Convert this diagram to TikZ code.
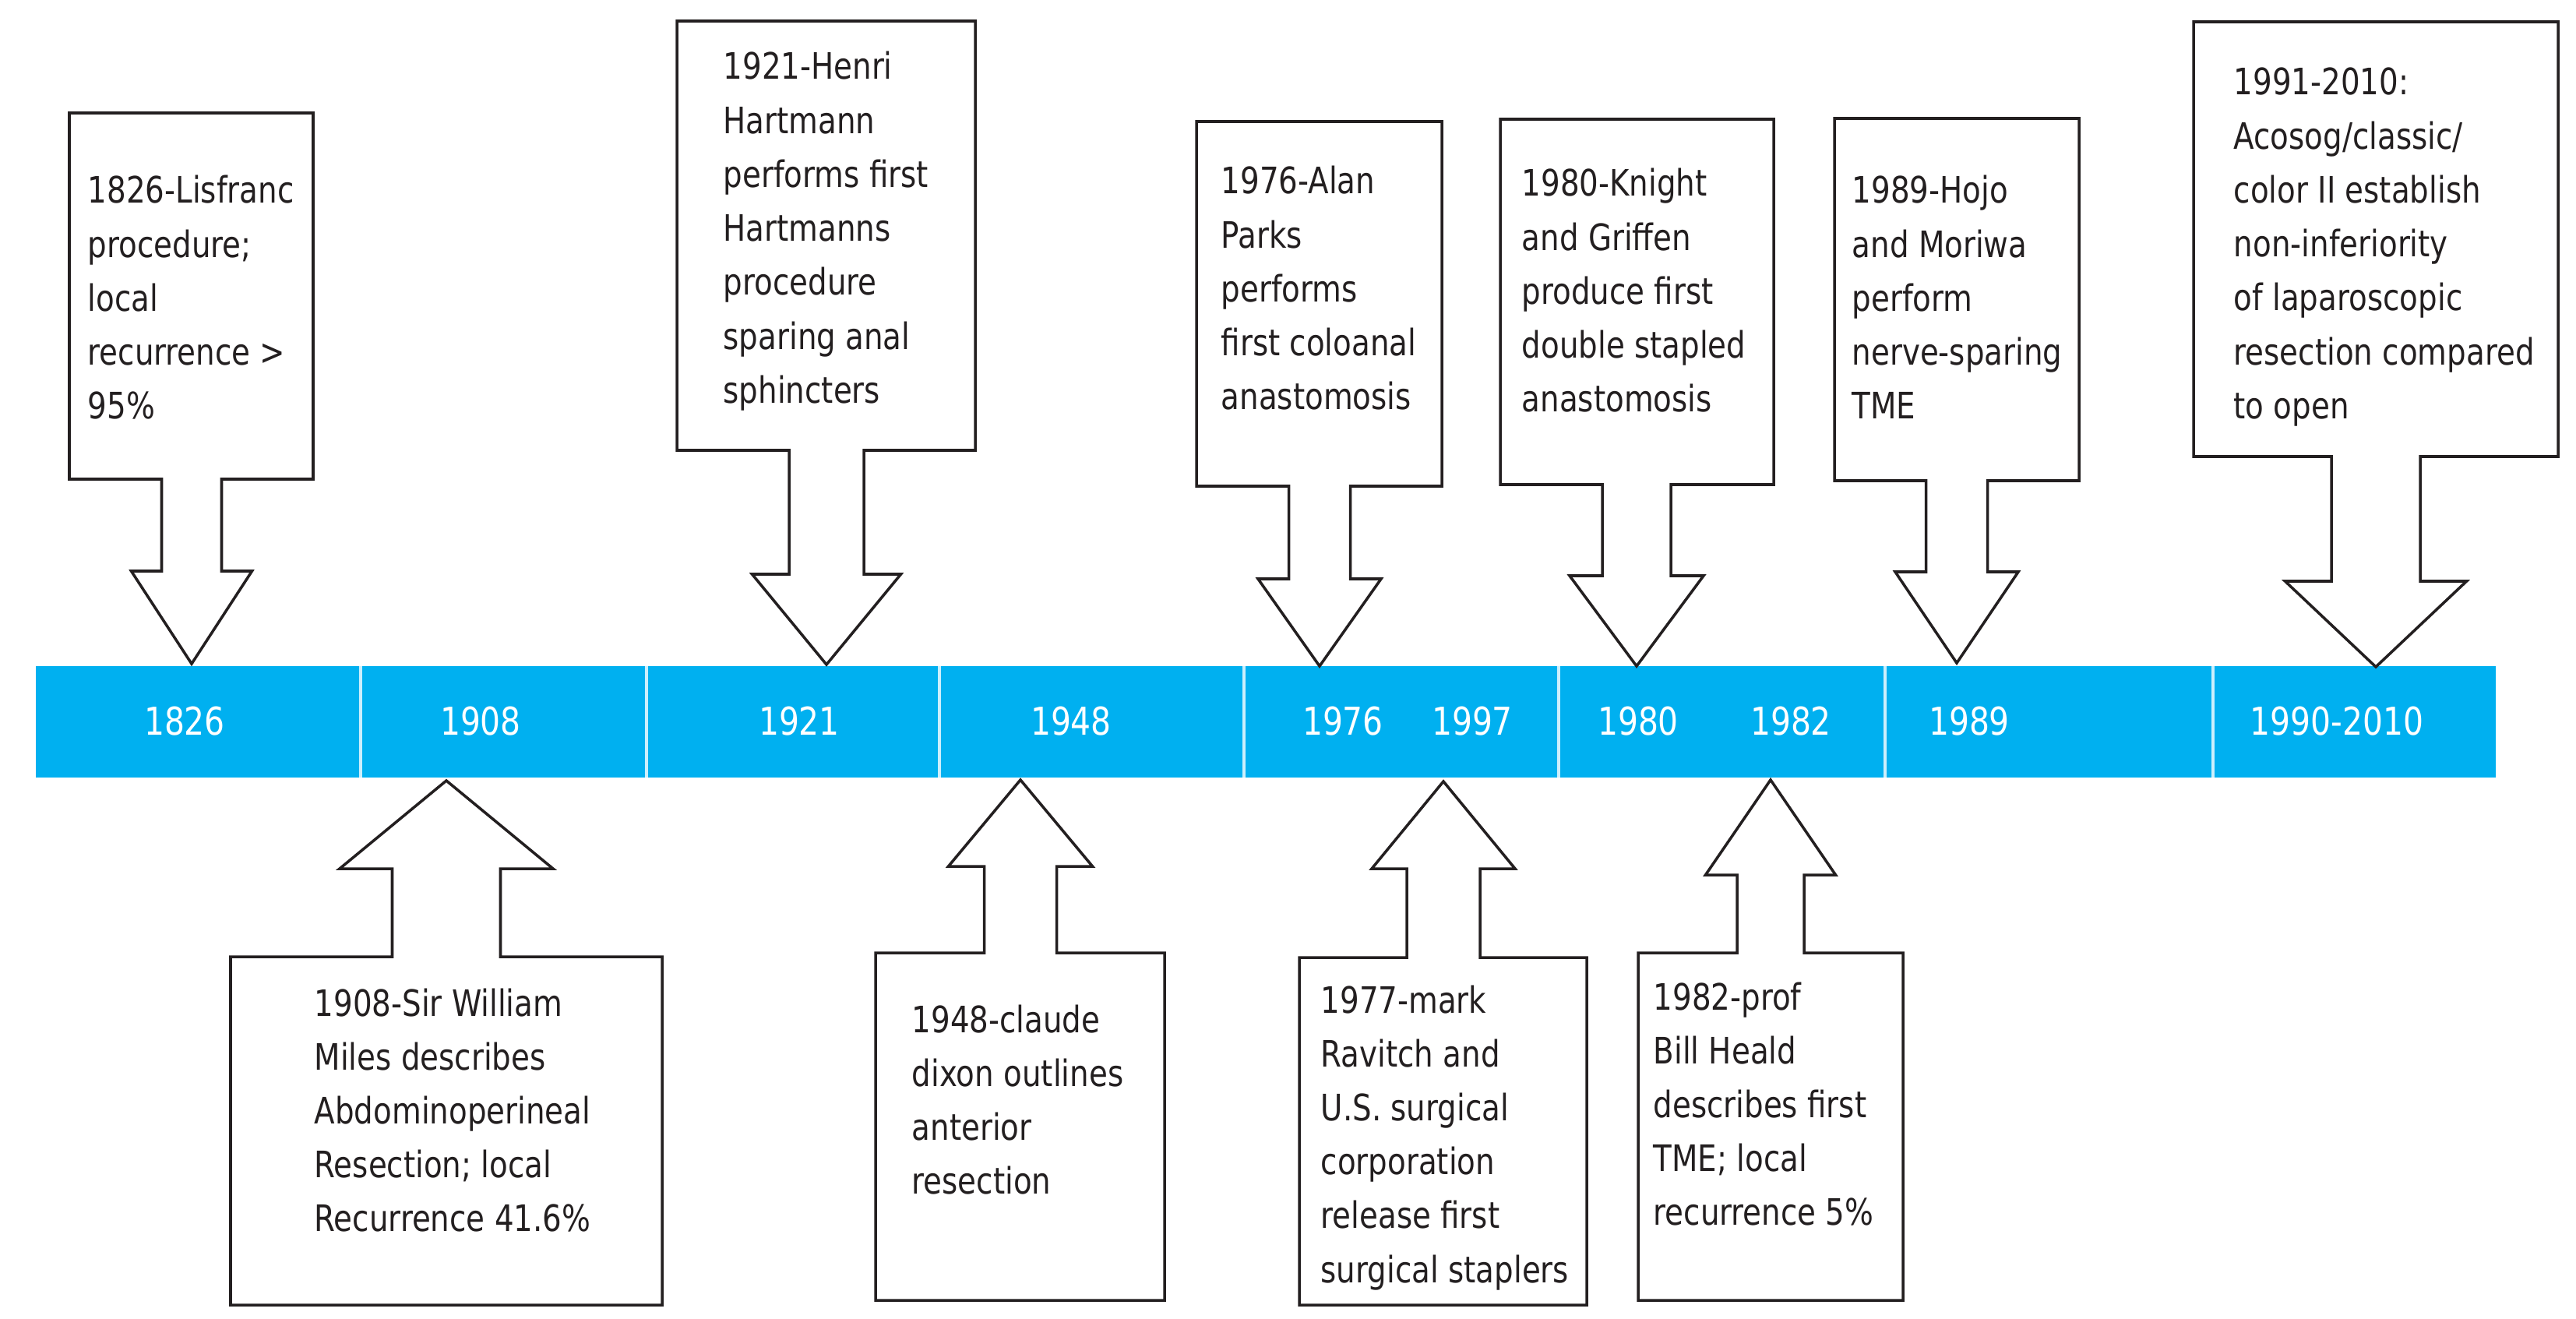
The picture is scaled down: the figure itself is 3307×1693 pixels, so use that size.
\documentclass[tikz,border=0pt]{standalone}
\usepackage{fontspec}
\setmainfont{DejaVu Sans}[FakeStretch=0.83]
\definecolor{barblue}{RGB}{0,176,240}
\definecolor{inkgray}{RGB}{35,31,32}
\newcommand{\evfont}{\fontsize{13.3}{19.7}\selectfont}
\newcommand{\yrfont}{\fontsize{14}{17}\selectfont}
\newcommand{\evstack}[1]{\begin{tabular}[t]{@{}l@{}}#1\end{tabular}}

\begin{document}
\begin{tikzpicture}[x=0.1mm, y=-0.1mm,
    callout/.style={draw=inkgray, line width=1pt, fill=white, line join=miter},
    evtext/.style={anchor=base west, inner sep=0pt, font=\evfont, text=inkgray},
    yrlabel/.style={anchor=base, inner sep=0pt, font=\yrfont, text=white}]
    \useasboundingbox (0,0) rectangle (3307,1693);

    % timeline bar, one segment per period
    \foreach \xa/\xb in {46/463, 463/830, 830/1206, 1206/1597, 1597/2001, 2001/2420, 2420/2841, 2841/3204} {
        \fill[barblue] (\xa,855) rectangle (\xb,998);
    }
    \foreach \xs in {463, 830, 1206, 1597, 2001, 2420, 2841} {
        \draw[white!80!barblue, line width=1.3pt] (\xs,855) -- (\xs,998);
    }
    % years on the bar
    \foreach \yr/\cx in {1826/237, 1908/617, 1921/1026, 1948/1375, 1976/1724, 1997/1890, 1980/2103, 1982/2299, 1989/2528} {
        \node[yrlabel] (y\yr) at (\cx,943) {\yr};
    }
    \node[yrlabel] (y1990) at (3000,943) {1990-2010};

    % callouts: box left/right, far edge, near edge, centre, stem and head half widths, head base, tip
    \foreach \bl/\br/\far/\near/\cx/\sw/\hw/\hy/\ty in {
        89/402/145/615/246/38.5/77.5/733/852,
        869/1252/27/578/1061/48/95.5/737/853,
        1536/1851/156/624/1694/39.5/79/743/855,
        1926/2277/153/622/2101/44/86/739/855,
        2355/2669/152/617/2512/39.5/79/734/851,
        2816/3284/28/586/3050/57/116.5/746/856,
        296/850/1675/1228/573/69.5/137/1115/1002,
        1124/1495/1669/1223/1310/46.5/92.5/1112/1001,
        1668/2037/1675/1229/1853/47/92/1115/1003,
        2103/2443/1669/1223/2273/43/83.5/1123/1001} {
        \draw[callout] (\bl,\far) -- (\br,\far) -- (\br,\near) -- (\cx+\sw,\near)
            -- (\cx+\sw,\hy) -- (\cx+\hw,\hy) -- (\cx,\ty) -- (\cx-\hw,\hy)
            -- (\cx-\sw,\hy) -- (\cx-\sw,\near) -- (\bl,\near) -- cycle;
    }

    % texts above the bar
    \node[evtext] (e1826) at (112,261) {\evstack{1826-Lisfranc\\procedure;\\local\\recurrence >\\95\%}};
    \node[evtext] (e1921) at (928,102) {\evstack{1921-Henri\\Hartmann\\performs first\\Hartmanns\\procedure\\sparing anal\\sphincters}};
    \node[evtext] (e1976) at (1567,249) {\evstack{1976-Alan\\Parks\\performs\\first coloanal\\anastomosis}};
    \node[evtext] (e1980) at (1953,252) {\evstack{1980-Knight\\and Griffen\\produce first\\double stapled\\anastomosis}};
    \node[evtext] (e1989) at (2377,261) {\evstack{1989-Hojo\\and Moriwa\\perform\\nerve-sparing\\TME}};
    \node[evtext] (e1991) at (2867,122) {\evstack{1991-2010:\\Acosog/classic/\\color II establish\\non-inferiority\\of laparoscopic\\resection compared\\to open}};
    % texts below the bar
    \node[evtext] (e1908) at (403,1304) {\evstack{1908-Sir William\\Miles describes\\Abdominoperineal\\Resection; local\\Recurrence 41.6\%}};
    \node[evtext] (e1948) at (1170,1325) {\evstack{1948-claude\\dixon outlines\\anterior\\resection}};
    \node[evtext] (e1977) at (1695,1300) {\evstack{1977-mark\\Ravitch and\\U.S. surgical\\corporation\\release first\\surgical staplers}};
    \node[evtext] (e1982) at (2122,1296) {\evstack{1982-prof\\Bill Heald\\describes first\\TME; local\\recurrence 5\%}};
\end{tikzpicture}
\end{document}
